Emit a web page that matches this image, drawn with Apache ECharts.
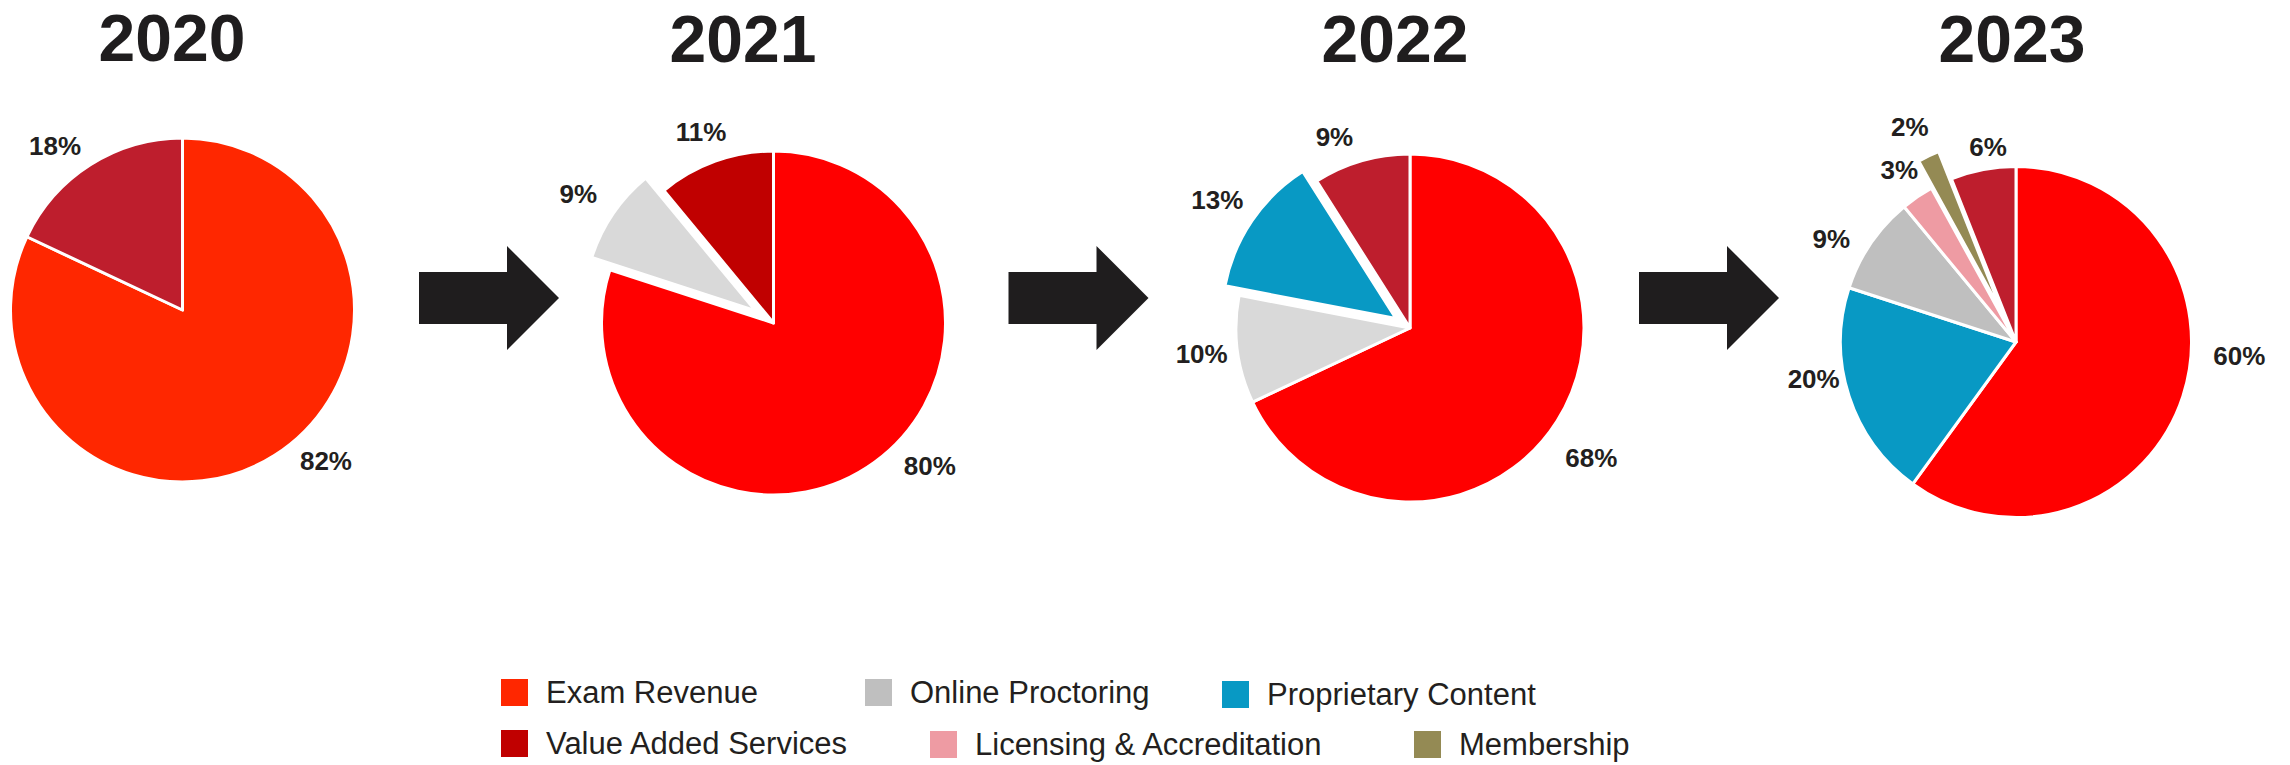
<!DOCTYPE html>
<html>
<head>
<meta charset="utf-8">
<script src="https://cdn.jsdelivr.net/npm/echarts@6/dist/echarts.min.js"></script>
<style>
html,body{margin:0;padding:0;background:#ffffff;overflow:hidden;}
#chart{width:2290px;height:765px;}
</style>
</head>
<body>
<div id="chart"></div>
<script>
// ---------------- DATA ----------------
const years = ['2020', '2021', '2022', '2023'];
const categories = ['Exam Revenue', 'Online Proctoring', 'Proprietary Content',
                    'Value Added Services', 'Licensing & Accreditation', 'Membership'];
// slices in clockwise order from 12 o'clock, values in %
const cats2020 = ['Exam Revenue', 'Value Added Services'];
const vals2020 = [82, 18];
const cats2021 = ['Exam Revenue', 'Online Proctoring', 'Value Added Services'];
const vals2021 = [80, 9, 11];
const cats2022 = ['Exam Revenue', 'Online Proctoring', 'Proprietary Content', 'Value Added Services'];
const vals2022 = [68, 10, 13, 9];
const cats2023 = ['Exam Revenue', 'Proprietary Content', 'Online Proctoring',
                  'Licensing & Accreditation', 'Membership', 'Value Added Services'];
const vals2023 = [60, 20, 9, 3, 2, 6];
const explodedSlice = [null, 'Online Proctoring', 'Proprietary Content', 'Membership'];

// ---------------- STYLE / LAYOUT ----------------
const FONT = '"Liberation Sans", Arial, "DejaVu Sans", sans-serif';
const TEXT_DARK = '#231f20';
const legendColors = {
  'Exam Revenue': '#FF2700',
  'Online Proctoring': '#BFBFBF',
  'Proprietary Content': '#0899C4',
  'Value Added Services': '#C00000',
  'Licensing & Accreditation': '#EE9BA3',
  'Membership': '#948A54'
};
const sliceColors = [
  { 'Exam Revenue': '#FF2700', 'Value Added Services': '#BE1E2D' },
  { 'Exam Revenue': '#FF0000', 'Online Proctoring': '#D9D9D9', 'Value Added Services': '#C00000' },
  { 'Exam Revenue': '#FF0000', 'Online Proctoring': '#D9D9D9', 'Proprietary Content': '#0899C4', 'Value Added Services': '#BE1E2D' },
  { 'Exam Revenue': '#FF0000', 'Proprietary Content': '#0899C4', 'Online Proctoring': '#BFBFBF',
    'Licensing & Accreditation': '#EE9BA3', 'Membership': '#948A54', 'Value Added Services': '#BE1E2D' }
];
const pieGeom = [
  { center: [182.5, 310], radius: 172, offset: 0,  labelLen: 36 },
  { center: [773.5, 323], radius: 172, offset: 22, labelLen: 36 },
  { center: [1410, 328],  radius: 174, offset: 17, labelLen: 36 },
  { center: [2016, 342],  radius: 175.5, offset: 30, labelLen: 32 }
];
// small manual nudges of the percentage labels (pixels), as placed in the original slide
const labelNudge = [
  { 'Exam Revenue': [32, -25], 'Value Added Services': [-16, 12] },
  { 'Exam Revenue': [34, -25], 'Online Proctoring': [-6, 0], 'Value Added Services': [-2, 5] },
  { 'Exam Revenue': [4, 17], 'Proprietary Content': [-9, -6], 'Value Added Services': [-17, 11] },
  { 'Exam Revenue': [26, -50], 'Proprietary Content': [-5, -27], 'Online Proctoring': [-13, 14],
    'Value Added Services': [11, 9] }
];
const titlePos = [[172, 38], [743, 39], [1395, 39], [2012, 39]];
const arrowX = [419, 1008.5, 1639];
const legendPos = [
  ['Exam Revenue', 499, 677],
  ['Online Proctoring', 863, 677],
  ['Proprietary Content', 1220, 679],
  ['Value Added Services', 499, 728],
  ['Licensing & Accreditation', 928, 729],
  ['Membership', 1412, 729]
];

const allCats = [cats2020, cats2021, cats2022, cats2023];
const allVals = [vals2020, vals2021, vals2022, vals2023];

function centerLabel(p) {
  const pts = p.labelLinePoints;
  if (!pts || !pts[1]) return {};
  const name = allCats[p.seriesIndex][p.dataIndex];
  const n = (labelNudge[p.seriesIndex] && labelNudge[p.seriesIndex][name]) || [0, 0];
  return { x: pts[1][0] + n[0], y: pts[1][1] + n[1], align: 'center', verticalAlign: 'middle' };
}

const series = years.map(function (yr, k) {
  const g = pieGeom[k];
  return {
    type: 'pie',
    name: yr,
    center: g.center,
    radius: g.radius,
    startAngle: 90,
    clockwise: true,
    selectedMode: 'multiple',
    selectedOffset: g.offset,
    avoidLabelOverlap: false,
    itemStyle: { borderColor: '#ffffff', borderWidth: 3 },
    emphasis: { disabled: true },
    label: {
      show: true, position: 'outside', formatter: '{c}%',
      fontSize: 26, fontWeight: 'bold', color: TEXT_DARK, fontFamily: FONT
    },
    labelLine: { show: true, length: g.labelLen, length2: 0, lineStyle: { opacity: 0, width: 0 } },
    labelLayout: centerLabel,
    data: allCats[k].map(function (n, i) {
      return {
        name: n,
        value: allVals[k][i],
        selected: n === explodedSlice[k],
        itemStyle: { color: sliceColors[k][n] }
      };
    })
  };
});

const legends = legendPos.map(function (l) {
  return {
    data: [{ name: l[0], itemStyle: { color: legendColors[l[0]] } }],
    left: l[1], top: l[2],
    orient: 'horizontal',
    icon: 'rect',
    itemWidth: 29, itemHeight: 29,
    selectedMode: false,
    padding: 0,
    textStyle: { fontSize: 31, color: TEXT_DARK, fontFamily: FONT, padding: [0, 0, 0, 12] }
  };
});

const graphics = [];
years.forEach(function (yr, k) {
  graphics.push({
    type: 'text', x: titlePos[k][0], y: titlePos[k][1],
    style: { text: yr, fill: '#1f1d1e', font: 'bold 66px ' + FONT, align: 'center', verticalAlign: 'middle' }
  });
});
arrowX.forEach(function (x0) {
  graphics.push({
    type: 'polygon',
    shape: { points: [[x0, 272], [x0 + 88, 272], [x0 + 88, 246], [x0 + 140, 298],
                      [x0 + 88, 350], [x0 + 88, 324], [x0, 324]] },
    style: { fill: '#1f1d1e' }
  });
});

const chart = echarts.init(document.getElementById('chart'), null, { renderer: 'svg', width: 2290, height: 765 });
chart.setOption({
  animation: false,
  backgroundColor: '#ffffff',
  legend: legends,
  graphic: graphics,
  series: series
});
</script>
</body>
</html>
